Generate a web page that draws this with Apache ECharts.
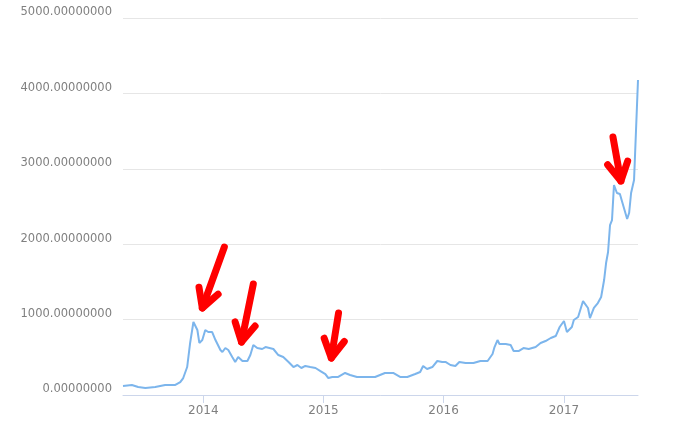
<!DOCTYPE html>
<html>
<head>
<meta charset="utf-8">
<script src="https://cdn.jsdelivr.net/npm/echarts@6/dist/echarts.min.js"></script>
<style>
  html, body { margin: 0; padding: 0; background: #fff; }
  #chart { width: 680px; height: 444px; }
</style>
</head>
<body>
<div id="chart"></div>
<script>
// weekly-ish price points
const dates = [
  '2013-05-02', '2013-05-29', '2013-06-17', '2013-07-09', '2013-08-08', '2013-09-07',
  '2013-10-08', '2013-10-23', '2013-11-01', '2013-11-13', '2013-11-22', '2013-12-02',
  '2013-12-08', '2013-12-14', '2013-12-20', '2013-12-29', '2014-01-07', '2014-01-16',
  '2014-01-28', '2014-02-07', '2014-02-22', '2014-02-28', '2014-03-09', '2014-03-18',
  '2014-03-30', '2014-04-08', '2014-04-17', '2014-04-30', '2014-05-15', '2014-05-24',
  '2014-06-02', '2014-06-14', '2014-06-29', '2014-07-09', '2014-08-02', '2014-08-17',
  '2014-09-01', '2014-09-17', '2014-10-02', '2014-10-14', '2014-10-26', '2014-11-07',
  '2014-11-22', '2014-12-08', '2014-12-23', '2015-01-07', '2015-01-16', '2015-01-28',
  '2015-02-15', '2015-03-08', '2015-03-23', '2015-04-13', '2015-05-14', '2015-06-07',
  '2015-07-07', '2015-08-01', '2015-08-22', '2015-09-13', '2015-10-07', '2015-10-22',
  '2015-10-31', '2015-11-12', '2015-11-28', '2015-12-13', '2015-12-28', '2016-01-07',
  '2016-01-22', '2016-02-06', '2016-02-18', '2016-03-08', '2016-04-01', '2016-04-22',
  '2016-05-14', '2016-05-29', '2016-06-04', '2016-06-13', '2016-06-19', '2016-07-08',
  '2016-07-23', '2016-08-01', '2016-08-16', '2016-08-31', '2016-09-16', '2016-10-07',
  '2016-10-22', '2016-11-06', '2016-11-22', '2016-12-07', '2016-12-19', '2017-01-01',
  '2017-01-10', '2017-01-25', '2017-01-31', '2017-02-13', '2017-02-28', '2017-03-15',
  '2017-03-21', '2017-04-02', '2017-04-14', '2017-04-24', '2017-05-03', '2017-05-09',
  '2017-05-15', '2017-05-21', '2017-05-27', '2017-06-02', '2017-06-11', '2017-06-20',
  '2017-06-27', '2017-07-03', '2017-07-12', '2017-07-18', '2017-07-24', '2017-08-02',
  '2017-08-08', '2017-08-14'
];
const prices = [
  120, 133, 106, 93, 106, 133,
  133, 172, 225, 371, 690, 968,
  955, 862, 690, 729, 862, 835,
  835, 729, 597, 570, 623, 597,
  504, 438, 504, 451, 451, 530,
  663, 623, 610, 636, 610, 530,
  504, 438, 371, 398, 358, 385,
  371, 358, 318, 278, 225, 239,
  239, 292, 265, 239, 239, 239,
  292, 292, 239, 239, 278, 305,
  385, 345, 371, 451, 438, 438,
  398, 385, 438, 424, 424, 451,
  451, 544, 636, 729, 676, 676,
  663, 583, 583, 623, 610, 636,
  690, 716, 756, 782, 902, 981,
  835, 902, 995, 1034, 1246, 1154,
  1021, 1154, 1220, 1300, 1525, 1750,
  1896, 2254, 2320, 2785, 2679, 2665,
  2559, 2572, 2334, 2413, 2679, 2851,
  3514, 4178
];

// hand-drawn red arrows: tip and tail in data units
const arrowTips = [['2013-12-29', 1154], ['2014-04-27', 703], ['2015-01-25', 491], ['2017-06-23', 2838]];
const arrowTails = [['2014-03-06', 1962], ['2014-06-02', 1472], ['2015-02-16', 1087], ['2017-05-30', 3421]];

const yTicks = [0, 1000, 2000, 3000, 4000, 5000];

const chart = echarts.init(document.getElementById('chart'));

const lineData = dates.map((d, i) => [d, prices[i]]);
const arrowData = arrowTips.map((t, i) => [t[0], t[1], arrowTails[i][0], arrowTails[i][1]]);

function renderArrow(params, api) {
  const tip = api.coord([api.value(0), api.value(1)]);
  const tail = api.coord([api.value(2), api.value(3)]);
  const dx = tail[0] - tip[0];
  const dy = tail[1] - tip[1];
  const len = Math.sqrt(dx * dx + dy * dy);
  const ux = dx / len;
  const uy = dy / len;
  const a = 29 * Math.PI / 180;
  const arm = 21;
  const rot = (s) => [
    tip[0] + arm * (ux * Math.cos(s * a) - uy * Math.sin(s * a)),
    tip[1] + arm * (ux * Math.sin(s * a) + uy * Math.cos(s * a))
  ];
  const style = { stroke: '#ff0000', lineWidth: 7, lineCap: 'round', lineJoin: 'round', fill: null };
  return {
    type: 'group',
    children: [
      { type: 'line', shape: { x1: tail[0], y1: tail[1], x2: tip[0], y2: tip[1] }, style: style },
      { type: 'polyline', shape: { points: [rot(1), tip, rot(-1)] }, style: style }
    ]
  };
}

chart.setOption({
  animation: false,
  backgroundColor: '#fff',
  grid: { left: 123, right: 42, top: 18, bottom: 49 },
  xAxis: {
    type: 'time',
    min: dates[0],
    max: dates[dates.length - 1],
    minInterval: 365 * 24 * 3600 * 1000,
    splitLine: { show: false },
    axisLine: { lineStyle: { color: '#ccd6eb', width: 1 } },
    axisTick: { show: true, length: 8, lineStyle: { color: '#ccd6eb' } },
    axisLabel: {
      formatter: '{yyyy}',
      color: '#808080',
      fontFamily: 'DejaVu Sans',
      fontSize: 12,
      margin: 10,
      showMinLabel: false,
      showMaxLabel: false
    }
  },
  yAxis: {
    type: 'value',
    min: yTicks[0],
    max: yTicks[yTicks.length - 1],
    interval: 1000,
    axisLine: { show: false },
    axisTick: { show: false },
    splitLine: { lineStyle: { color: '#e6e6e6', width: 1 } },
    axisLabel: {
      formatter: (v) => v.toFixed(8),
      color: '#808080',
      fontFamily: 'DejaVu Sans',
      fontSize: 11.5,
      lineHeight: 11,
      margin: 11,
      verticalAlign: 'bottom'
    }
  },
  series: [
    {
      type: 'line',
      data: lineData,
      showSymbol: false,
      lineStyle: { color: '#7cb5ec', width: 2 },
      z: 2
    },
    {
      type: 'custom',
      data: arrowData,
      renderItem: renderArrow,
      clip: false,
      silent: true,
      z: 5
    }
  ]
});
</script>
</body>
</html>
